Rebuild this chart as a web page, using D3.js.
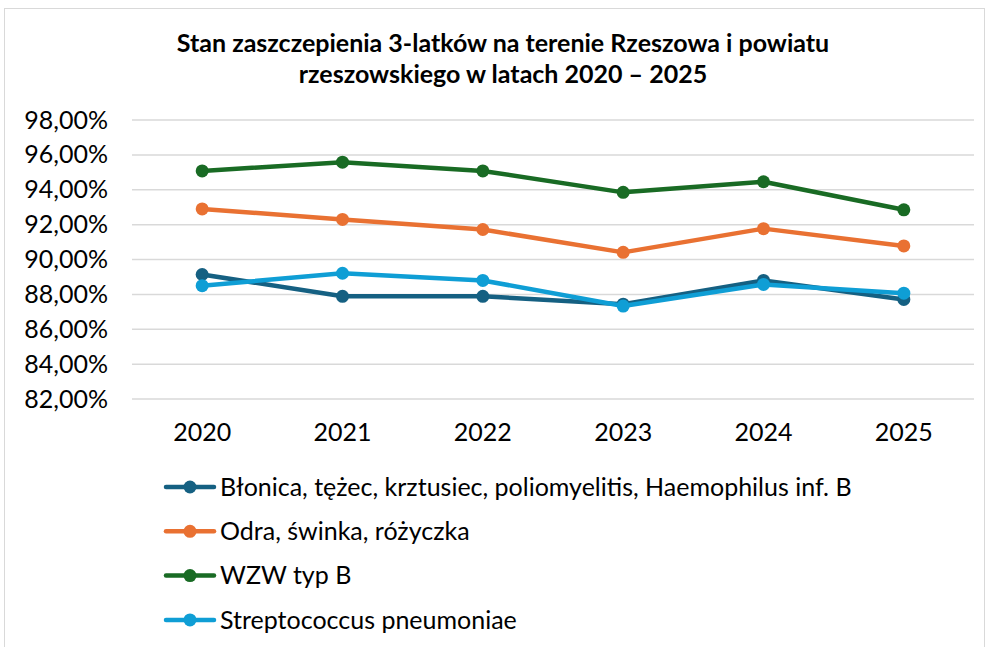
<!DOCTYPE html>
<html>
<head>
<meta charset="utf-8">
<script src="https://cdn.jsdelivr.net/npm/d3@7"></script>
<style>
  body { margin: 0; background: #fff; }
  svg { font-family: Lato, "Open Sans", sans-serif; }
</style>
</head>
<body>
<svg id="chart" width="989" height="647"></svg>
<script>
// data
const years = ["2020", "2021", "2022", "2023", "2024", "2025"];
const yTicks = [82, 84, 86, 88, 90, 92, 94, 96, 98];
const seriesNames = [
  "Błonica, tężec, krztusiec, poliomyelitis, Haemophilus inf. B",
  "Odra, świnka, różyczka",
  "WZW typ B",
  "Streptococcus pneumoniae"
];
const blonica = [89.14, 87.89, 87.89, 87.44, 88.80, 87.71];
const odra = [92.90, 92.30, 91.72, 90.41, 91.77, 90.78];
const wzw = [95.08, 95.58, 95.08, 93.85, 94.46, 92.85];
const strepto = [88.50, 89.21, 88.80, 87.33, 88.57, 88.07];
const colors = ["#156082", "#e97132", "#196b24", "#0f9ed5"];

const svg = d3.select("#chart");

// outer frame
svg.append("rect")
    .attr("x", 4.5).attr("y", 8.5)
    .attr("width", 980).attr("height", 650)
    .attr("fill", "#fff")
    .attr("stroke", "#d9d9d9");

// title
const title = svg.append("text")
    .attr("x", 503)
    .attr("text-anchor", "middle")
    .style("font-weight", "bold")
    .style("font-size", "25px")
    .attr("fill", "#000");
title.append("tspan").attr("x", 503).attr("y", 52)
    .text("Stan zaszczepienia 3-latków na terenie Rzeszowa i powiatu");
title.append("tspan").attr("x", 503).attr("y", 83)
    .text("rzeszowskiego w latach 2020 – 2025");

const plotLeft = 132, plotRight = 974, plotTop = 120, plotBottom = 399;

let x = d3.scaleBand()
    .domain(years)
    .range([plotLeft, plotRight]);

let y = d3.scaleLinear()
    .domain([82, 98])
    .range([plotBottom, plotTop]);

// grid lines
svg.append("g")
    .selectAll("line")
    .data(yTicks)
    .enter().append("line")
    .attr("x1", plotLeft).attr("x2", plotRight)
    .attr("y1", d => y(d)).attr("y2", d => y(d))
    .attr("stroke", "#d9d9d9")
    .attr("stroke-width", 1.5);

// y axis labels
let yAxis = d3.axisLeft(y)
    .tickValues(yTicks)
    .tickSize(0)
    .tickPadding(0)
    .tickFormat(d => d.toFixed(2).replace(".", ",") + "%");

svg.append("g")
    .attr("class", "y axis")
    .attr("transform", "translate(108,0)")
    .call(yAxis)
    .call(g => g.select(".domain").remove())
    .selectAll("text")
    .style("font-size", "25px")
    .style("font-family", "Lato, sans-serif")
    .attr("fill", "#000");

// x axis labels
let xAxis = d3.axisBottom(x).tickSize(0).tickPadding(0);
svg.append("g")
    .attr("class", "x axis")
    .attr("transform", "translate(0,423)")
    .call(xAxis)
    .call(g => g.select(".domain").remove())
    .selectAll("text")
    .style("font-size", "25px")
    .style("font-family", "Lato, sans-serif")
    .attr("fill", "#000");

// lines and markers
const allSeries = [blonica, odra, wzw, strepto];
const line = d3.line()
    .x((d, i) => x(years[i]) + x.bandwidth() / 2)
    .y(d => y(d));

allSeries.forEach(function(vals, k) {
    const g = svg.append("g");
    g.append("path")
        .datum(vals)
        .attr("d", line)
        .attr("fill", "none")
        .attr("stroke", colors[k])
        .attr("stroke-width", 4.5)
        .attr("stroke-linejoin", "round");
    g.selectAll("circle")
        .data(vals)
        .enter().append("circle")
        .attr("cx", (d, i) => x(years[i]) + x.bandwidth() / 2)
        .attr("cy", d => y(d))
        .attr("r", 6.5)
        .attr("fill", colors[k]);
});

// legend
const legend = svg.append("g");
seriesNames.forEach(function(name, k) {
    const ly = 487 + k * 44.3;
    legend.append("line")
        .attr("x1", 166).attr("x2", 214)
        .attr("y1", ly).attr("y2", ly)
        .attr("stroke", colors[k])
        .attr("stroke-width", 4.5)
        .attr("stroke-linecap", "round");
    legend.append("circle")
        .attr("cx", 190).attr("cy", ly)
        .attr("r", 6.5)
        .attr("fill", colors[k]);
    legend.append("text")
        .attr("x", 220).attr("y", ly)
        .attr("dy", "0.35em")
        .style("font-size", "25px")
        .attr("fill", "#000")
        .text(name);
});
</script>
</body>
</html>
